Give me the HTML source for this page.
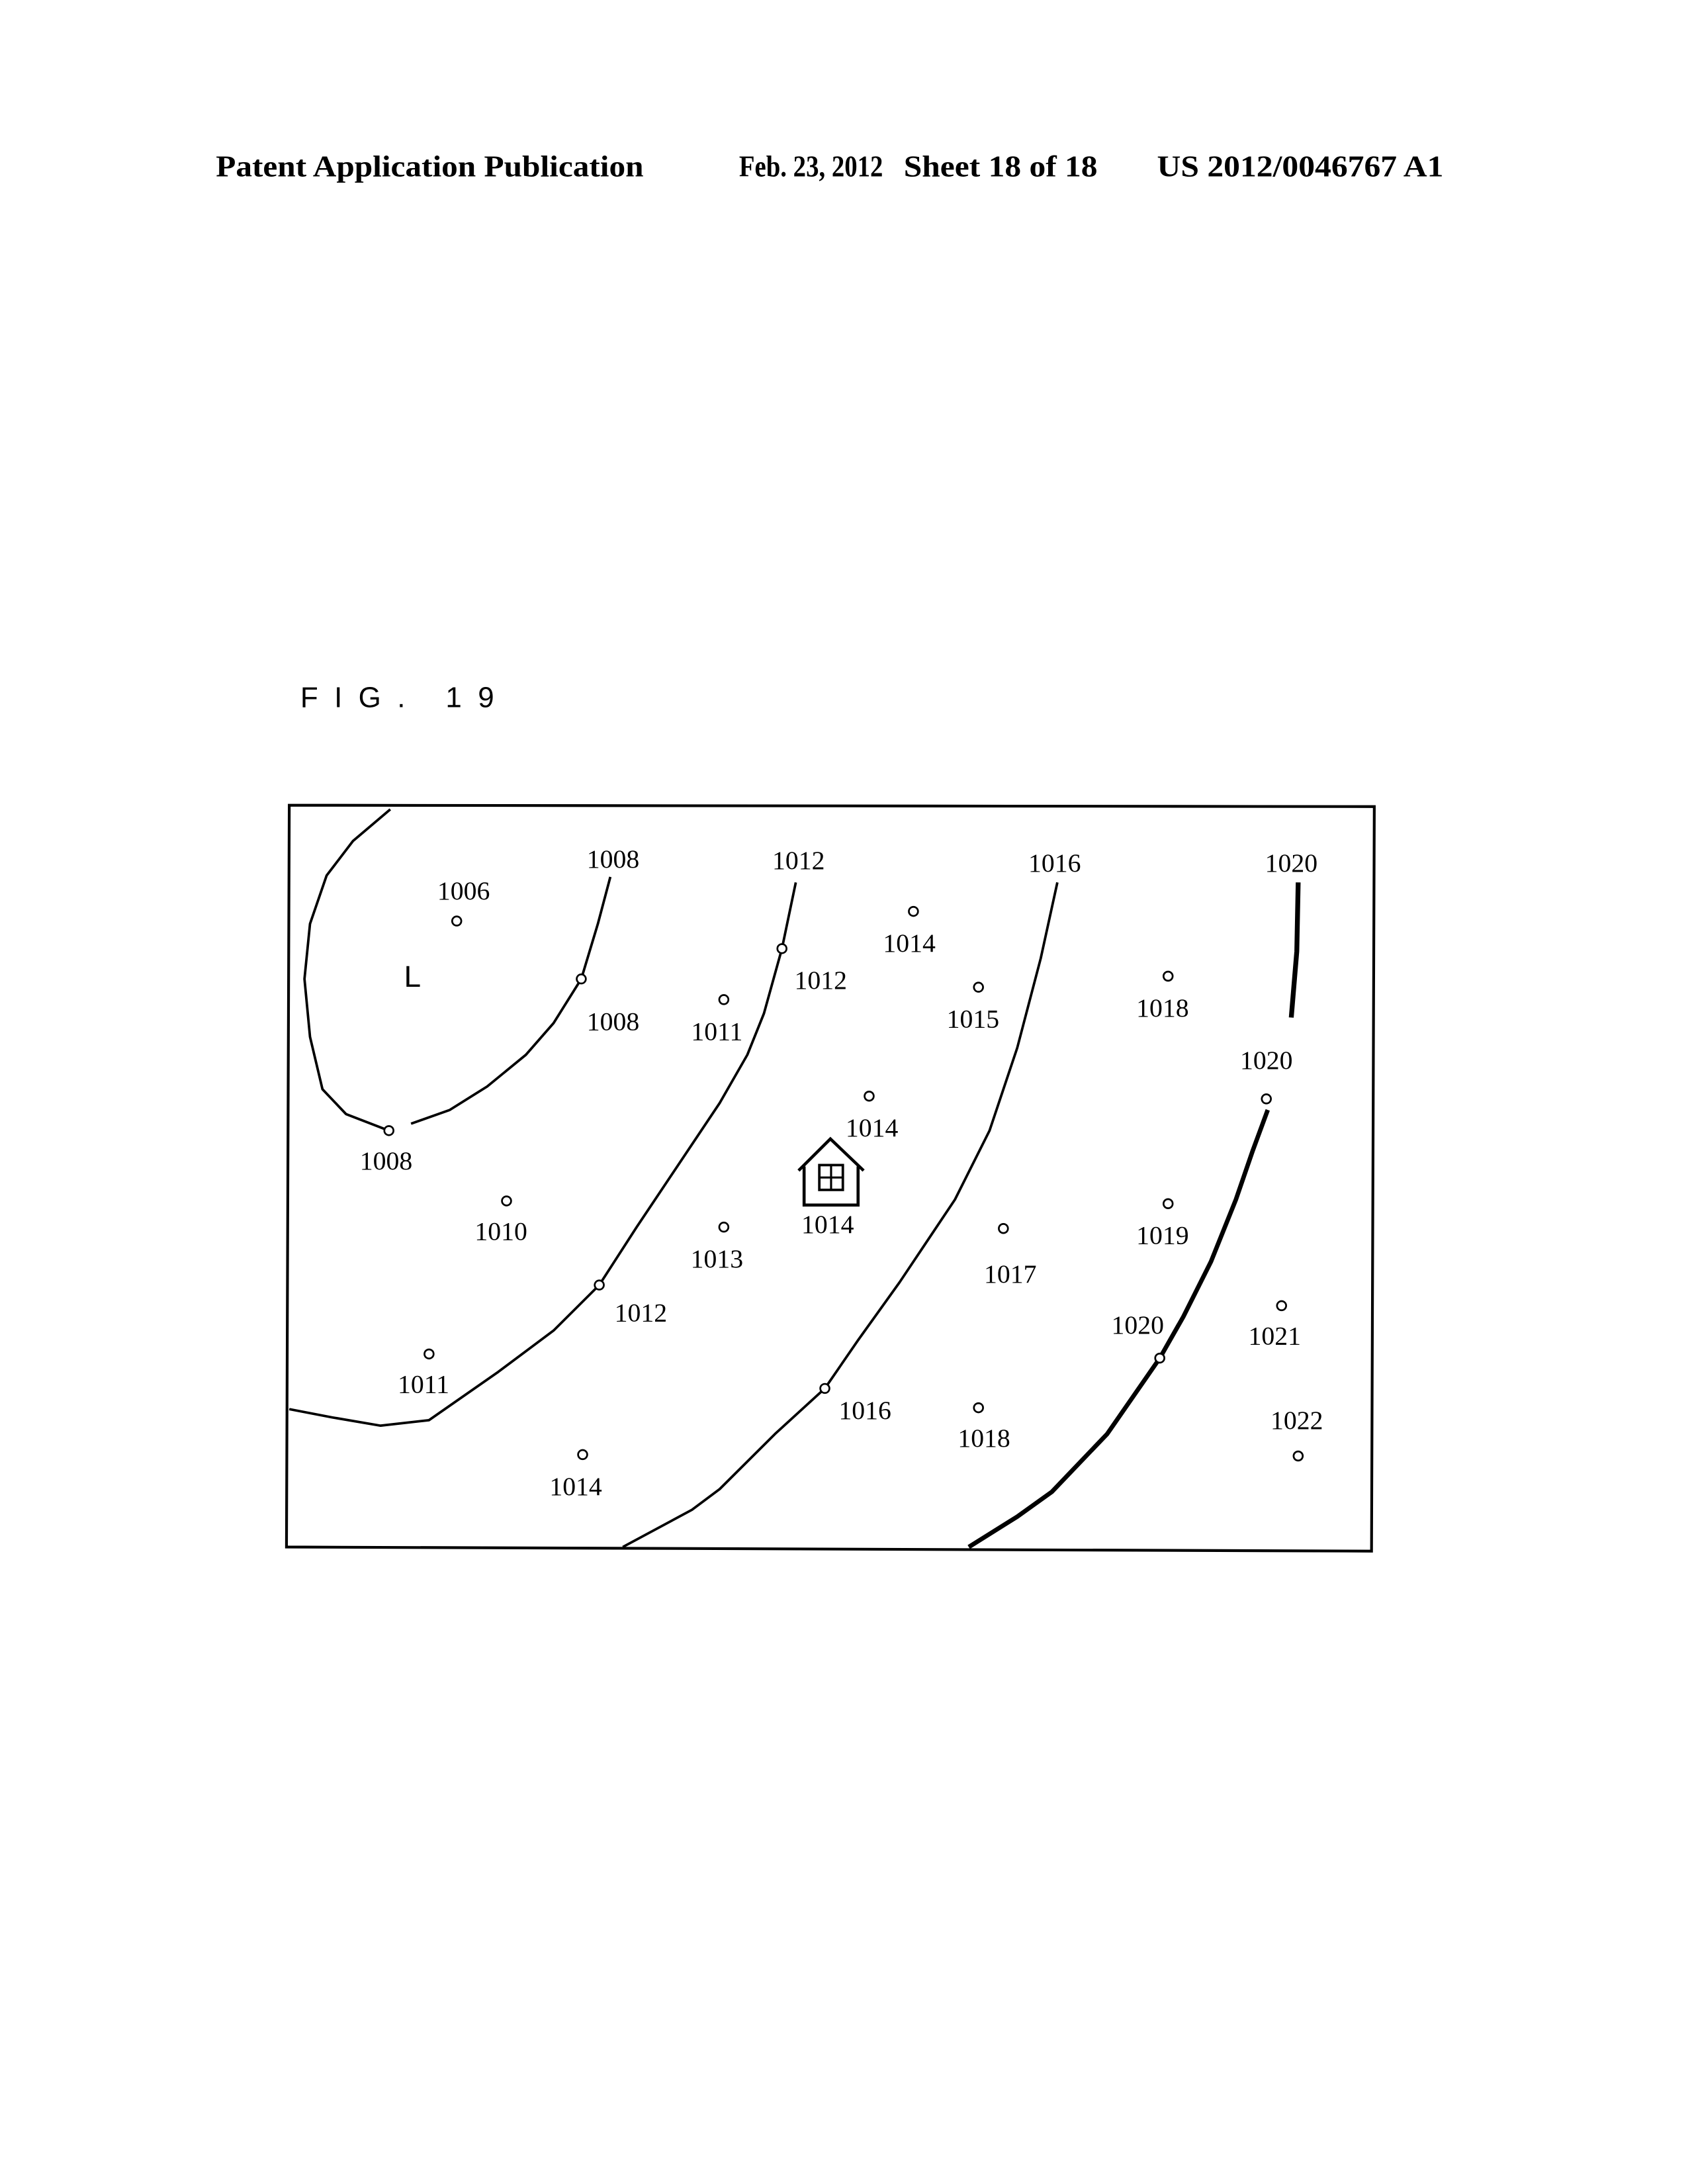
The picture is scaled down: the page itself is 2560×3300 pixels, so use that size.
<!DOCTYPE html>
<html><head><meta charset="utf-8"><style>
html,body{margin:0;padding:0;background:#fff;}
svg{display:block;}
</style></head><body>
<svg width="2560" height="3300" viewBox="0 0 1224 1584" preserveAspectRatio="none" xmlns="http://www.w3.org/2000/svg">
<rect width="1224" height="1584" fill="#fff"/>
<g font-family="Liberation Serif, serif" font-weight="bold" font-size="22" fill="#000">
<text x="156" y="128" textLength="309" lengthAdjust="spacingAndGlyphs">Patent Application Publication</text>
<text x="534" y="128" textLength="104" lengthAdjust="spacingAndGlyphs">Feb. 23, 2012</text>
<text x="653" y="128" textLength="140" lengthAdjust="spacingAndGlyphs">Sheet 18 of 18</text>
<text x="836" y="128" textLength="207" lengthAdjust="spacingAndGlyphs">US 2012/0046767 A1</text>
</g>
<text x="217" y="513" font-family="Liberation Sans, sans-serif" font-size="21" fill="#000" textLength="140" lengthAdjust="spacing">FIG. 19</text>
<polygon points="209,584 993,585 991,1125 207,1122" fill="none" stroke="#000" stroke-width="2"/>
<g fill="none" stroke="#000" stroke-width="1.8" stroke-linejoin="round">
<polyline points="282,587 255,610 236,635 224,670 220,710 224,752 233,790 250,808 281,820"/>
<polyline points="297,815 325,805 352,788 380,765 400,742 420,710 432,670 441,636"/>
<polyline points="575,640 565,688 552,735 540,765 520,800 490,845 460,890 433,932 400,965 360,995 310,1030 275,1034 240,1028 209,1022"/>
<polyline points="764,640 752,695 735,760 715,820 690,870 650,930 620,972 596,1007 560,1040 520,1080 500,1095 450,1122"/>
<polyline points="938,640 937,690 933,738" stroke-width="3.5"/>
<polyline points="916,805 905,835 893,870 875,915 855,955 838,985 800,1040 760,1082 735,1100 700,1122" stroke-width="3.2"/>
</g>
<g fill="#fff" stroke="#000" stroke-width="1.3">
<circle cx="330" cy="668" r="3.3"/><circle cx="420" cy="710" r="3.3"/><circle cx="281" cy="820" r="3.3"/>
<circle cx="565" cy="688" r="3.3"/><circle cx="523" cy="725" r="3.3"/><circle cx="660" cy="661" r="3.3"/>
<circle cx="707" cy="716" r="3.3"/><circle cx="844" cy="708" r="3.3"/><circle cx="915" cy="797" r="3.3"/>
<circle cx="628" cy="795" r="3.3"/><circle cx="366" cy="871" r="3.3"/><circle cx="523" cy="890" r="3.3"/>
<circle cx="725" cy="891" r="3.3"/><circle cx="844" cy="873" r="3.3"/><circle cx="433" cy="932" r="3.3"/>
<circle cx="310" cy="982" r="3.3"/><circle cx="596" cy="1007" r="3.3"/><circle cx="838" cy="985" r="3.3"/>
<circle cx="926" cy="947" r="3.3"/><circle cx="707" cy="1021" r="3.3"/><circle cx="421" cy="1055" r="3.3"/>
<circle cx="938" cy="1056" r="3.3"/>
</g>
<g font-family="Liberation Serif, serif" font-size="19" fill="#000" text-anchor="middle" dominant-baseline="central">
<text x="335" y="646">1006</text><text x="443" y="623">1008</text><text x="577" y="624">1012</text>
<text x="762" y="626">1016</text><text x="933" y="626">1020</text><text x="657" y="684">1014</text>
<text x="593" y="711">1012</text><text x="443" y="741">1008</text><text x="518" y="748">1011</text>
<text x="703" y="739">1015</text><text x="840" y="731">1018</text><text x="915" y="769">1020</text>
<text x="630" y="818">1014</text><text x="279" y="842">1008</text><text x="598" y="888">1014</text>
<text x="362" y="893">1010</text><text x="518" y="913">1013</text><text x="730" y="924">1017</text>
<text x="840" y="896">1019</text><text x="463" y="952">1012</text><text x="822" y="961">1020</text>
<text x="921" y="969">1021</text><text x="306" y="1004">1011</text><text x="625" y="1023">1016</text>
<text x="711" y="1043">1018</text><text x="937" y="1030">1022</text><text x="416" y="1078">1014</text>
</g>
<text x="298" y="708" font-family="Liberation Sans, sans-serif" font-size="22" fill="#000" text-anchor="middle" dominant-baseline="central">L</text>
<g fill="none" stroke="#000" stroke-width="2.2">
<polyline points="577,849 600,826 624,849"/>
<polyline points="581,846 581,874 620,874 620,846"/>
<rect x="592" y="845" width="17" height="18" stroke-width="1.8"/>
<line x1="600.5" y1="845" x2="600.5" y2="863" stroke-width="1.5"/>
<line x1="592" y1="854" x2="609" y2="854" stroke-width="1.5"/>
</g>
</svg>
</body></html>
